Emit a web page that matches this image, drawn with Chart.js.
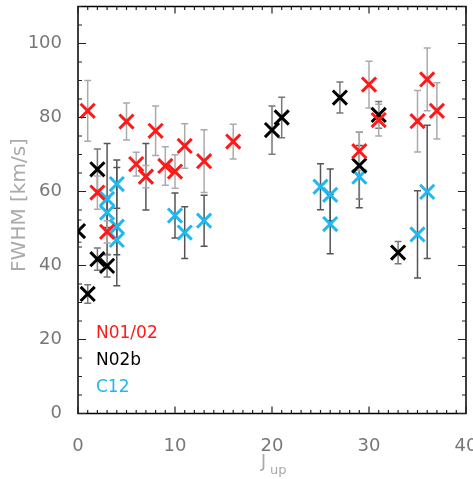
<!DOCTYPE html>
<html>
<head>
<meta charset="utf-8">
<script src="https://cdn.jsdelivr.net/npm/chart.js@4"></script>
<style>
  html, body { margin: 0; padding: 0; background: #fff; }
  #wrap { width: 473px; height: 479px; }
</style>
</head>
<body>
<div id="wrap"><canvas id="fwhm-chart" width="473" height="479"></canvas></div>
<script>
// N01/02 (red)
var redX = [1, 2, 3, 5, 6, 7, 8, 9, 10, 11, 13, 16, 29, 30, 31, 35, 36, 37];
var redY = [81.8, 59.7, 49.1, 78.9, 67.4, 64.0, 76.4, 66.9, 65.4, 72.3, 68.2, 73.5, 70.9, 88.9, 79.3, 79.0, 90.3, 81.8];
var redErr = [8.2, 4.5, 3, 5, 3.2, 3, 6.7, 5.2, 4.5, 6, 8.5, 4.7, 5.2, 6.3, 4.3, 8.3, 8.5, 7.6];

// N02b (black)
var blackX = [0, 1, 2, 2, 3, 20, 21, 27, 29, 31, 33];
var blackY = [49.3, 32.3, 66.0, 41.7, 39.9, 76.6, 80.0, 85.4, 67.0, 80.7, 43.5];
var blackErr = [3, 2.5, 5.5, 3, 3, 6.5, 5.5, 4.2, 9, 3.6, 3];

// C12 (cyan)
var cyanX = [3, 3, 4, 4, 4, 7, 10, 11, 13, 25, 26, 26, 29, 35, 36];
var cyanY = [58.0, 54.3, 62.0, 50.5, 46.9, 64.0, 53.5, 48.9, 52.1, 61.3, 59.1, 51.2, 64.0, 48.4, 59.9];
var cyanErr = [15, 4, 6.5, 16, 4, 9, 6.1, 7, 6.9, 6.2, 7, 8, 8.4, 11.8, 18];

var xTicks = [0, 10, 20, 30, 40];
var yTicks = [0, 20, 40, 60, 80, 100];

function toPoints(xs, ys) {
    var pts = [];
    for (var i = 0; i < xs.length; i++) {
        pts.push({x: xs[i], y: ys[i]});
    }
    return pts;
}

function makeSet(label, xs, ys, errs, color, barColor) {
    return {
        label: label,
        data: toPoints(xs, ys),
        errs: errs,
        barColor: barColor,
        clip: 0,
        pointStyle: "crossRot",
        pointRadius: 10,
        pointHoverRadius: 10,
        borderWidth: 3,
        borderColor: color,
        backgroundColor: color
    };
}

// error bars, drawn under the markers
var errorBars = {
    id: "errorBars",
    beforeDatasetsDraw: function(chart) {
        var ctx = chart.ctx;
        var a = chart.chartArea;
        var xs = chart.scales.x, ys = chart.scales.y;
        ctx.save();
        ctx.beginPath();
        ctx.rect(a.left, a.top, a.right - a.left, a.bottom - a.top);
        ctx.clip();
        ctx.lineWidth = 1.5;
        chart.data.datasets.slice().reverse().forEach(function(ds) {
            ctx.strokeStyle = ds.barColor;
            ds.data.forEach(function(p, i) {
                var px = xs.getPixelForValue(p.x);
                var top = ys.getPixelForValue(p.y + ds.errs[i]);
                var bot = ys.getPixelForValue(p.y - ds.errs[i]);
                ctx.beginPath();
                ctx.moveTo(px, top); ctx.lineTo(px, bot);
                ctx.moveTo(px - 3.5, top); ctx.lineTo(px + 3.5, top);
                ctx.moveTo(px - 3.5, bot); ctx.lineTo(px + 3.5, bot);
                ctx.stroke();
            });
        });
        ctx.restore();
    }
};

// box, inward ticks, titles and the text legend
var frame = {
    id: "frame",
    afterDraw: function(chart) {
        var ctx = chart.ctx;
        var a = chart.chartArea;
        var xs = chart.scales.x, ys = chart.scales.y;
        ctx.save();
        ctx.strokeStyle = "#000";
        ctx.lineWidth = 1.5;
        ctx.strokeRect(a.left, a.top, a.right - a.left, a.bottom - a.top);

        ctx.lineWidth = 1.2;
        ctx.strokeStyle = "#222";
        ctx.beginPath();
        for (var v = 0; v <= 40; v++) {
            var px = xs.getPixelForValue(v);
            var len = (v % 10 === 0) ? 7 : 3.5;
            ctx.moveTo(px, a.bottom); ctx.lineTo(px, a.bottom - len);
            ctx.moveTo(px, a.top); ctx.lineTo(px, a.top + len);
        }
        for (var w = 0; w <= 110; w += 5) {
            var py = ys.getPixelForValue(w);
            var l2 = (w % 20 === 0) ? 8 : 4;
            ctx.moveTo(a.left, py); ctx.lineTo(a.left + l2, py);
            ctx.moveTo(a.right, py); ctx.lineTo(a.right - l2, py);
        }
        ctx.stroke();

        // y title
        ctx.fillStyle = "#aaa";
        ctx.font = "20px 'DejaVu Sans'";
        ctx.textAlign = "center";
        ctx.textBaseline = "middle";
        ctx.save();
        ctx.translate(20, (a.top + a.bottom) / 2 - 5);
        ctx.rotate(-Math.PI / 2);
        ctx.fillText("FWHM [km/s]", 0, 0);
        ctx.restore();

        // x title with subscript
        var cx = (a.left + a.right) / 2;
        ctx.textAlign = "left";
        ctx.textBaseline = "alphabetic";
        ctx.font = "17px 'DejaVu Sans'";
        ctx.fillText("J", cx - 11, 467);
        ctx.font = "13px 'DejaVu Sans'";
        ctx.fillText("up", cx - 2, 474);

        // legend
        ctx.font = "17px 'DejaVu Sans'";
        ctx.textBaseline = "middle";
        var ly = [334, 361, 388];
        chart.data.datasets.forEach(function(ds, i) {
            ctx.fillStyle = ds.borderColor;
            ctx.fillText(ds.label, 96, ly[i]);
        });
        ctx.restore();
    }
};

var config = {
    type: "scatter",
    data: {
        datasets: [
            makeSet("N01/02", redX, redY, redErr, "#ff1a1a", "#aaaaaa"),
            makeSet("N02b", blackX, blackY, blackErr, "#000000", "#777777"),
            makeSet("C12", cyanX, cyanY, cyanErr, "#1fb8ef", "#555555")
        ]
    },
    options: {
        responsive: false,
        animation: false,
        layout: {
            autoPadding: false,
            padding: {top: 6.5, right: 7, left: 0, bottom: 0}
        },
        plugins: {
            legend: {display: false},
            tooltip: {enabled: false}
        },
        scales: {
            x: {
                type: "linear",
                min: 0,
                max: 40,
                grid: {display: false},
                border: {display: false},
                afterFit: function(scale) {
                    scale.height = 65.5;
                    scale.paddingLeft = 0;
                    scale.paddingRight = 0;
                },
                afterBuildTicks: function(scale) {
                    scale.ticks = xTicks.map(function(v) { return {value: v}; });
                },
                ticks: {
                    color: "#777",
                    padding: 14,
                    maxRotation: 0,
                    font: {family: "DejaVu Sans", size: 18}
                }
            },
            y: {
                type: "linear",
                min: 0,
                max: 110,
                grid: {display: false},
                border: {display: false},
                afterFit: function(scale) {
                    scale.width = 78;
                    scale.paddingTop = 0;
                    scale.paddingBottom = 0;
                },
                afterBuildTicks: function(scale) {
                    scale.ticks = yTicks.map(function(v) { return {value: v}; });
                },
                ticks: {
                    color: "#777",
                    padding: 8,
                    font: {family: "DejaVu Sans", size: 18}
                }
            }
        }
    },
    plugins: [errorBars, frame]
};

new Chart(document.getElementById("fwhm-chart"), config);
</script>
</body>
</html>
